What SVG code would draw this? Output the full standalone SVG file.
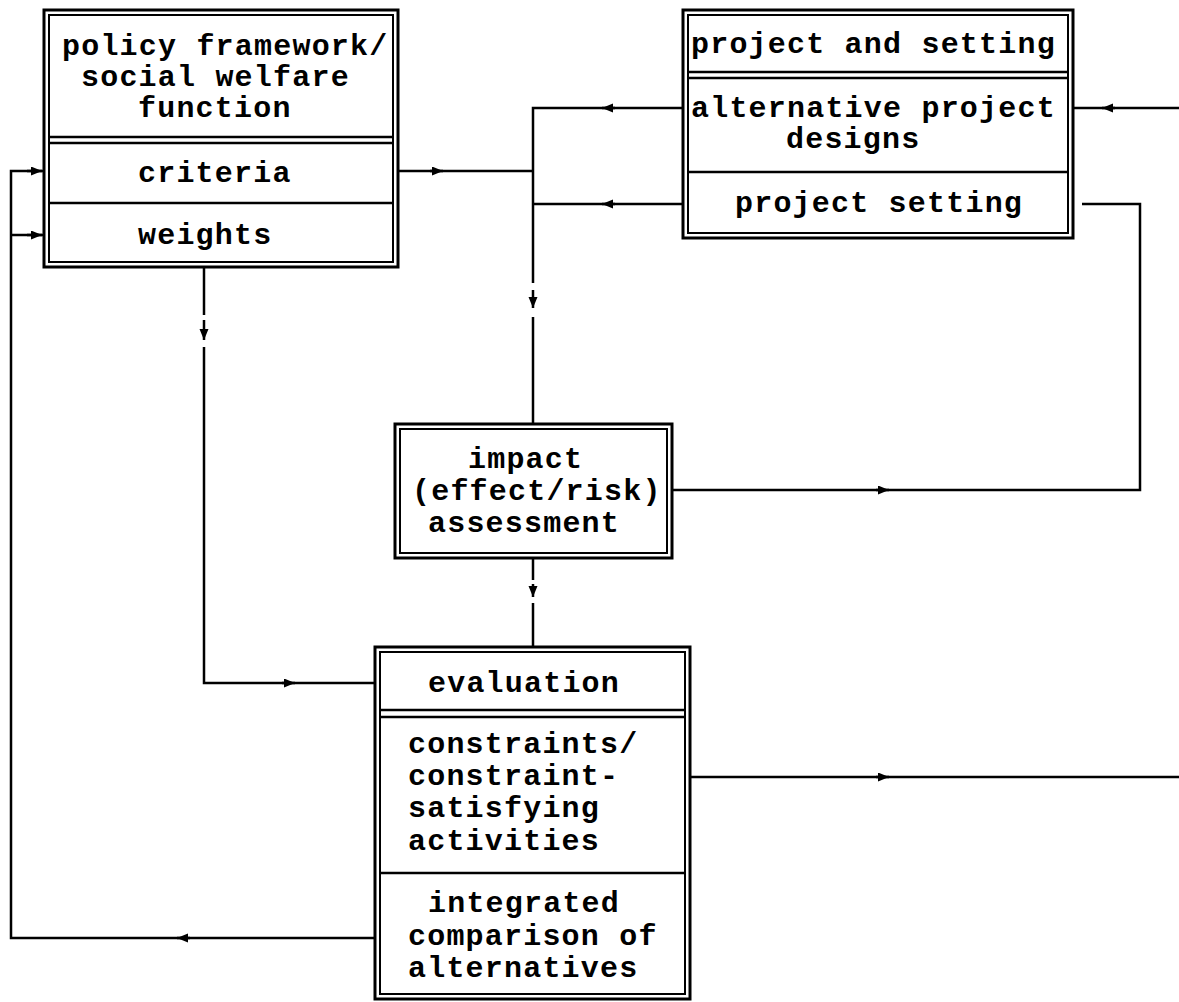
<svg xmlns="http://www.w3.org/2000/svg" width="1179" height="1002" viewBox="0 0 1179 1002">
<style>
.o{fill:none;stroke:#000;stroke-width:3}
.i{fill:none;stroke:#000;stroke-width:2}
.d{stroke:#000;stroke-width:2.5}
.t{font-family:"Liberation Mono","DejaVu Sans Mono",monospace;font-weight:bold;font-size:30px;letter-spacing:1.2px;fill:#000}
.c{fill:none;stroke:#000;stroke-width:2.5;stroke-linejoin:miter}
</style>
<defs>
<marker id="ah" markerUnits="userSpaceOnUse" markerWidth="13" markerHeight="10" refX="11" refY="4.5" orient="auto">
<path d="M0,0 L11,4.5 L0,9 z" fill="#000"/>
</marker>
</defs>
<rect width="1179" height="1002" fill="#fff"/>

<g id="connectors">
<path class="c" d="M398,171 H533"/>
<path class="c" d="M430,171 L443,171" marker-end="url(#ah)"/>
<path class="c" d="M683,108 H533 V283"/>
<path class="c" d="M615,108 L602,108" marker-end="url(#ah)"/>
<path class="c" d="M683,204 H533"/>
<path class="c" d="M615,204 L602,204" marker-end="url(#ah)"/>
<path class="c" d="M533,290 V308" marker-end="url(#ah)"/>
<path class="c" d="M533,317 V424"/>
<path class="c" d="M1179,108 H1073"/>
<path class="c" d="M1115,108 L1102,108" marker-end="url(#ah)"/>
<path class="c" d="M672,490 H1140 V204 H1082"/>
<path class="c" d="M876,490 L889,490" marker-end="url(#ah)"/>
<path class="c" d="M533,558 V580"/>
<path class="c" d="M533,584 V597" marker-end="url(#ah)"/>
<path class="c" d="M533,603 V647"/>
<path class="c" d="M204,267 V315"/>
<path class="c" d="M204,320 V340" marker-end="url(#ah)"/>
<path class="c" d="M204,347 V683 H375"/>
<path class="c" d="M282,683 L295,683" marker-end="url(#ah)"/>
<path class="c" d="M690,777 H1179"/>
<path class="c" d="M876,777 L889,777" marker-end="url(#ah)"/>
<path class="c" d="M375,938 H11 V171 H44"/>
<path class="c" d="M190,938 L177,938" marker-end="url(#ah)"/>
<path class="c" d="M27,171 L42,171" marker-end="url(#ah)"/>
<path class="c" d="M11,235 H44"/>
<path class="c" d="M27,235 L42,235" marker-end="url(#ah)"/>
</g>

<g id="policy">
<rect class="o" x="44" y="10" width="354" height="257"/>
<rect class="i" x="49" y="15" width="344" height="247"/>
<line class="d" x1="49" y1="137" x2="393" y2="137"/>
<line class="d" x1="49" y1="143" x2="393" y2="143"/>
<line class="d" x1="49" y1="203" x2="393" y2="203"/>
<text class="t" x="62" y="55">policy framework/</text>
<text class="t" x="81" y="86">social welfare</text>
<text class="t" x="138" y="117">function</text>
<text class="t" x="138" y="182">criteria</text>
<text class="t" x="138" y="244">weights</text>
</g>

<g id="project">
<rect class="o" x="683" y="10" width="390" height="228"/>
<rect class="i" x="688" y="15" width="380" height="218"/>
<line class="d" x1="688" y1="72" x2="1068" y2="72"/>
<line class="d" x1="688" y1="78" x2="1068" y2="78"/>
<line class="d" x1="688" y1="172" x2="1068" y2="172"/>
<text class="t" x="691" y="53">project and setting</text>
<text class="t" x="691" y="117">alternative project</text>
<text class="t" x="786" y="148">designs</text>
<text class="t" x="735" y="212">project setting</text>
</g>

<g id="impact">
<rect class="o" x="395" y="424" width="277" height="134"/>
<rect class="i" x="400" y="429" width="267" height="124"/>
<text class="t" x="468" y="468">impact</text>
<text class="t" x="412" y="500">(effect/risk)</text>
<text class="t" x="428" y="532">assessment</text>
</g>

<g id="evaluation">
<rect class="o" x="375" y="647" width="315" height="352"/>
<rect class="i" x="380" y="652" width="305" height="342"/>
<line class="d" x1="380" y1="710" x2="685" y2="710"/>
<line class="d" x1="380" y1="717" x2="685" y2="717"/>
<line class="d" x1="380" y1="873" x2="685" y2="873"/>
<text class="t" x="428" y="692">evaluation</text>
<text class="t" x="408" y="753">constraints/</text>
<text class="t" x="408" y="785">constraint-</text>
<text class="t" x="408" y="817">satisfying</text>
<text class="t" x="408" y="850">activities</text>
<text class="t" x="428" y="912">integrated</text>
<text class="t" x="408" y="945">comparison of</text>
<text class="t" x="408" y="977">alternatives</text>
</g>
</svg>
